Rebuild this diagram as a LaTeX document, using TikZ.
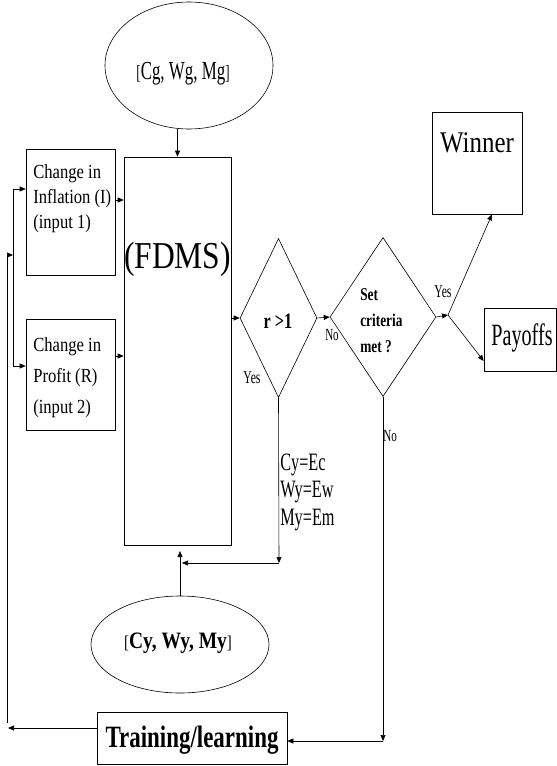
\documentclass[tikz,border=0pt]{standalone}
\usepackage{fontspec}
\setmainfont{Liberation Serif}[FakeStretch=0.83]
\newfontfamily\midfont{Liberation Serif}[FakeStretch=0.74]
\newfontfamily\thinfont{Liberation Serif}[FakeStretch=0.65]
\usetikzlibrary{shapes.geometric,positioning,arrows.meta}

\begin{document}
\begin{tikzpicture}[x=1pt,y=-1pt,line width=0.6pt]
\tikzset{box/.style={draw, rectangle, inner sep=0pt},
	oval/.style={draw, ellipse, inner sep=0pt},
	choice/.style={draw, diamond, inner sep=0pt},
	txt/.style={inner sep=0pt},
	small/.style={txt, anchor=base, font=\thinfont\fontsize{18}{18}\selectfont},
	arr/.style={-{Triangle[length=6pt,width=5pt]}}}
\useasboundingbox (0,0) rectangle (557,766);

% ellipses
\node[oval, minimum width=168pt, minimum height=127pt] (goal) at (189,65.5) {};
\node[txt, anchor=base] (goaltxt) at (183,79) {\thinfont\fontsize{20}{20}\selectfont[\fontsize{26}{26}\selectfont Cg, Wg, Mg\fontsize{20}{20}\selectfont]};
\node[oval, minimum width=178pt, minimum height=97pt] (actual) at (180,644.5) {};
\node[txt, anchor=base] (actualtxt) at (178,648) {\fontsize{18}{18}\selectfont[{\fontsize{23.5}{24}\selectfont\bfseries Cy, Wy, My}]};

% boxes
\node[box, minimum width=107pt, minimum height=388pt] (fdms) at (177.5,351) {};
\node[txt, anchor=base] (fdmstxt) at (177.5,268) {\fontsize{38}{38}\selectfont(FDMS)};
\node[box, minimum width=89pt, minimum height=126pt] (infl) at (70.5,212) {};
\node[txt, anchor=base west, align=left, font=\fontsize{20}{25}\selectfont] (infltxt) at (33,228) {Change in\\Inflation (I)\\(input 1)};
\node[box, minimum width=89pt, minimum height=111pt] (prof) at (70.5,374.5) {};
\node[txt, anchor=base west, align=left, font=\fontsize{20}{31}\selectfont] (proftxt) at (33,413) {Change in\\Profit (R)\\(input 2)};
\node[box, minimum width=90pt, minimum height=102pt] (winner) at (477,163) {};
\node[txt, anchor=base] (winnertxt) at (477,152) {\fontsize{30}{30}\selectfont Winner};
\node[box, minimum width=72pt, minimum height=63pt] (pay) at (520,339.5) {};
\node[txt, anchor=base] (paytxt) at (522,345) {\thinfont\fontsize{31}{31}\selectfont Payoffs};
\node[box, minimum width=190pt, minimum height=52pt] (train) at (192,738) {};
\node[txt, anchor=base] (traintxt) at (192,747) {\midfont\bfseries\fontsize{31}{31}\selectfont Training/learning};

% decisions
\node[choice, minimum width=77pt, minimum height=159pt] (ratio) at (278.5,318) {};
\node[txt, anchor=base] (ratiotxt) at (278,328) {\midfont\bfseries\fontsize{22}{22}\selectfont r >1};
\node[choice, minimum width=106pt, minimum height=159pt] (crit) at (383,317) {};
\node[txt, anchor=base west, align=left, font=\midfont\bfseries\fontsize{18}{26}\selectfont] (crittxt) at (360,352) {Set\\criteria\\met ?};

% labels
\node[small] (yes1) at (252,383) {Yes};
\node[small, font=\thinfont\fontsize{17}{17}\selectfont] (no1) at (332,340) {No};
\node[small] (yes2) at (443,297) {Yes};
\node[small, anchor=base west, font=\thinfont\fontsize{17}{17}\selectfont] (no2) at (383,441) {No};
\node[txt, anchor=base west, align=left, font=\thinfont\fontsize{25}{27.5}\selectfont] (update) at (280,525) {Cy=Ec\\Wy=Ew\\My=Em};

\coordinate (split) at (448,315);
\coordinate (yesdown) at (279,563);
\coordinate (backin) at (182,563);
\coordinate (nodown) at (383,741);
\coordinate (outleft) at (8,728);
\coordinate (upstart) at (7,723);
\coordinate (upend) at (13,255);
\coordinate (fantop) at (13,189);
\coordinate (fanbot) at (13,366);

\draw[arr] (goal.south -| fdms.north) -- (fdms.north);
\draw[arr] (infl.east |- 0,200) -- (fdms.west |- 0,200);
\draw[arr] (prof.east |- 0,356) -- (fdms.west |- 0,356);
\draw[arr] (fdms.east |- ratio.west) -- (ratio.west);
\draw[arr] (ratio.east) -- (crit.west);
\draw[arr] (crit.east) -- (split);
\draw[arr] (split) -- ([xshift=15pt]winner.south);
\draw[arr] (split) -- (pay.west |- 0,361);
\draw[arr] (ratio.south) -- (yesdown);
\draw[arr] (yesdown) -- (backin);
\draw[arr] (actual.north) -- (actual.north |- 0,551);
\draw[arr] (crit.south) -- (nodown);
\draw[arr] (nodown) -- (train.east |- nodown);
\draw[arr] (train.west |- outleft) -- (outleft);
\draw[arr] (upstart) |- (upend);
\draw (fantop) -- (fanbot);
\draw[arr] (fantop) -- (infl.west |- fantop);
\draw[arr] (fanbot) -- (prof.west |- fanbot);
\end{tikzpicture}
\end{document}
